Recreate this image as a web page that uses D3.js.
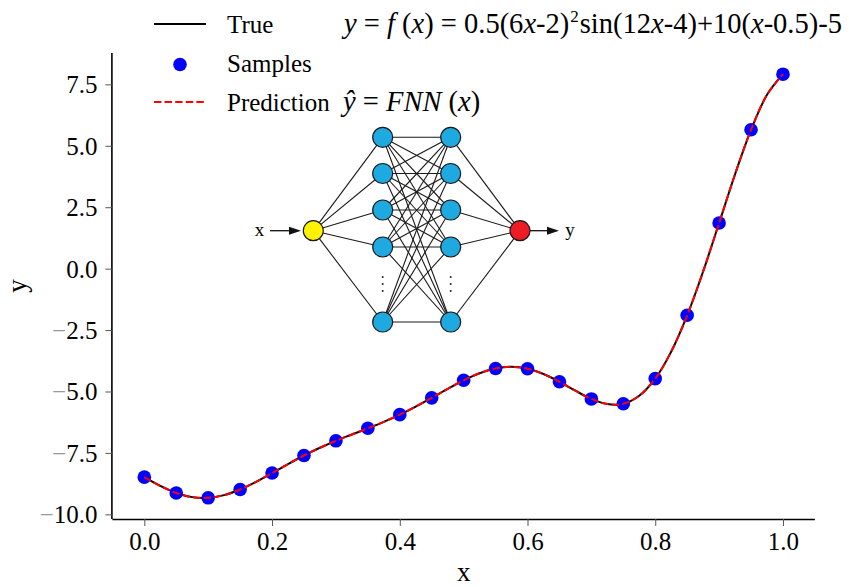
<!DOCTYPE html>
<html><head><meta charset="utf-8">
<script src="https://cdn.jsdelivr.net/npm/d3@7"></script>
<style>
body{margin:0;background:#fff}
svg{display:block}
text{font-family:"Liberation Serif","Times New Roman",serif;fill:#000}
</style>
</head><body>
<svg id="c" width="849" height="587"></svg>
<script>
// ---- data ----
const curveX = [0,0.025,0.05,0.075,0.1,0.125,0.15,0.175,0.2,0.225,0.25,0.275,0.3,0.325,0.35,0.375,0.4,0.425,0.45,0.475,0.5,0.525,0.55,0.575,0.6,0.625,0.65,0.675,0.7,0.725,0.75,0.775,0.8,0.825,0.85,0.875,0.9,0.925,0.95,0.975,1.0];
const trueY = [-8.486,-8.843,-9.131,-9.300,-9.328,-9.218,-8.989,-8.677,-8.320,-7.954,-7.605,-7.289,-7.008,-6.750,-6.499,-6.235,-5.943,-5.615,-5.259,-4.892,-4.545,-4.257,-4.064,-3.998,-4.075,-4.287,-4.604,-4.969,-5.303,-5.511,-5.497,-5.172,-4.475,-3.377,-1.899,-0.114,1.856,3.843,5.652,7.074,7.915];
const predY = [-8.486,-8.843,-9.131,-9.300,-9.328,-9.218,-8.989,-8.677,-8.320,-7.954,-7.605,-7.289,-7.008,-6.750,-6.499,-6.235,-5.943,-5.615,-5.259,-4.892,-4.545,-4.257,-4.064,-3.998,-4.075,-4.287,-4.604,-4.969,-5.303,-5.511,-5.497,-5.172,-4.475,-3.377,-1.899,-0.114,1.856,3.843,5.652,7.074,7.915];
const sampleX = [0,0.05,0.1,0.15,0.2,0.25,0.3,0.35,0.4,0.45,0.5,0.55,0.6,0.65,0.7,0.75,0.8,0.85,0.9,0.95,1.0];
const sampleY = [-8.486,-9.131,-9.328,-8.989,-8.320,-7.605,-7.008,-6.499,-5.943,-5.259,-4.545,-4.064,-4.075,-4.604,-5.303,-5.497,-4.475,-1.899,1.856,5.652,7.915];
const xTicks = [0,0.2,0.4,0.6,0.8,1.0];
const xTickLabels = ["0.0","0.2","0.4","0.6","0.8","1.0"];
const yTicks = [-10,-7.5,-5,-2.5,0,2.5,5,7.5];
const yTickLabels = ["−10.0","−7.5","−5.0","−2.5","0.0","2.5","5.0","7.5"];
const legendLabels = ["True","Samples","Prediction"];
const networkLayers = [1,5,5,1]; // node counts (hidden layers show 4 + ellipsis + 1)

// ---- setup ----
const svg = d3.select("#c");
const L=112.4, R=814.9, T=53, B=519;
const x = d3.scaleLinear().domain([-0.05,1.05]).range([L,R]);
const y = d3.scaleLinear().domain([-10.19,8.777]).range([B,T]);

// axes
const xAxis = svg.append("g").attr("transform",`translate(0,${B})`)
  .call(d3.axisBottom(x).tickValues(xTicks).tickSize(7).tickPadding(7).tickFormat((d,i)=>xTickLabels[i]));
const yAxis = svg.append("g").attr("transform",`translate(${L},0)`)
  .call(d3.axisLeft(y).tickValues(yTicks).tickSize(7).tickPadding(8).tickFormat((d,i)=>yTickLabels[i]));
[xAxis,yAxis].forEach(g=>{
  g.select(".domain").attr("stroke","#000").attr("stroke-width",1.6);
  g.selectAll(".tick line").attr("stroke","#555").attr("stroke-width",1);
  g.selectAll(".tick text").attr("font-family","Liberation Serif, serif").attr("font-size",25).attr("fill","#000");
});
xAxis.select(".domain").attr("d",`M${L},0.5H${R}`);
yAxis.select(".domain").attr("d",`M-0.5,${T}V${B}`);
xAxis.selectAll(".tick text").attr("dy","0.71em").attr("y",13);
yAxis.selectAll(".tick text").attr("dy","0.34em").each(function(d,i){
  const t = d3.select(this); const s = yTickLabels[i];
  t.text(null);
  if (s[0]==="−"){ t.append("tspan").attr("fill","#999").text("−"); t.append("tspan").text(s.slice(1)); }
  else t.text(s);
});

// axis labels
svg.append("text").attr("x",(L+R)/2).attr("y",581).attr("text-anchor","middle").attr("font-size",27).text("x");
svg.append("text").attr("transform","translate(25.5,286) rotate(-90)").attr("text-anchor","middle").attr("font-size",27).text("y");

// lines
const lineGen = d3.line().x((d,i)=>x(curveX[i])).y(d=>y(d)).curve(d3.curveCatmullRom.alpha(0.5));
svg.append("path").attr("d",lineGen(trueY)).attr("fill","none").attr("stroke","#000").attr("stroke-width",2);
svg.append("g").selectAll("circle").data(sampleY).join("circle")
  .attr("cx",(d,i)=>x(sampleX[i])).attr("cy",d=>y(d)).attr("r",6.8).attr("fill","#0000ff");
svg.append("path").attr("d",lineGen(predY)).attr("fill","none").attr("stroke","#ff0000").attr("stroke-width",2).attr("stroke-dasharray","7.4,3.2");

// legend
const lg = svg.append("g");
lg.append("line").attr("x1",154).attr("x2",206).attr("y1",24).attr("y2",24).attr("stroke","#000").attr("stroke-width",2);
lg.append("circle").attr("cx",180).attr("cy",64.5).attr("r",6.8).attr("fill","#0000ff");
lg.append("line").attr("x1",154).attr("x2",206).attr("y1",102).attr("y2",102).attr("stroke","#ff0000").attr("stroke-width",2).attr("stroke-dasharray","7.4,3.2");
[33,72,111].forEach((by,i)=>lg.append("text").attr("x",227).attr("y",by).attr("font-size",25).text(legendLabels[i]));

// formula 1
const FS = 28.5;
const f1 = svg.append("text").attr("x",344).attr("y",33).attr("font-size",FS);
const parts = [["y",1],[" = ",0],["f",1],[" (",0],["x",1],[") = 0.5(6",0],["x",1],["-2)",0],["2",2],["sin(12",3],["x",1],["-4)+10(",0],["x",1],["-0.5)-5",0]];
parts.forEach(([s,k])=>{
  const t=f1.append("tspan").text(s);
  if(k===1) t.attr("font-style","italic");
  if(k===2) t.attr("dy",-11).attr("font-size",17).attr("dx",1);
  if(k===3) t.attr("dy",11).attr("dx",1);
});
// formula 2
const f2 = svg.append("text").attr("x",343).attr("y",111).attr("font-size",FS);
[["ŷ",1],[" = ",0],["FNN",1],[" (",0],["x",1],[")",0]].forEach(([s,it])=>{
  const t=f2.append("tspan").text(s); if(it) t.attr("font-style","italic");
});

// network diagram
const net = svg.append("g");
const colX = [313.3,382.7,450.7,520];
const hidY = [137.3,173.5,210,247,322];
const midY = 230.7;
const nodes = networkLayers.map((n,li)=> n===1 ? [[colX[li],midY]] : hidY.map(yy=>[colX[li],yy]));
for (let li=0; li<nodes.length-1; li++){
  nodes[li].forEach(a=>nodes[li+1].forEach(b=>{
    net.append("line").attr("x1",a[0]).attr("y1",a[1]).attr("x2",b[0]).attr("y2",b[1]).attr("stroke","#1a1a1a").attr("stroke-width",1.1);
  }));
}
const fills = ["#fff200","#1fa9e1","#1fa9e1","#ed1c24"];
nodes.forEach((col,li)=>col.forEach(p=>{
  net.append("circle").attr("cx",p[0]).attr("cy",p[1]).attr("r",10).attr("fill",fills[li]).attr("stroke","#1a1a1a").attr("stroke-width",1.2);
}));
[colX[1],colX[2]].forEach(cx=>[277,284,291].forEach(cy=>net.append("circle").attr("cx",cx).attr("cy",cy).attr("r",1).attr("fill","#222")));
// arrows
function arrow(x1,x2,yy){
  net.append("line").attr("x1",x1).attr("x2",x2-10).attr("y1",yy).attr("y2",yy).attr("stroke","#111").attr("stroke-width",1.3);
  net.append("path").attr("d",`M${x2},${yy}L${x2-12},${yy-4}L${x2-12},${yy+4}Z`).attr("fill","#111");
}
arrow(270,301,midY); arrow(530,559,midY);
net.append("text").attr("x",259.5).attr("y",midY+5.5).attr("text-anchor","middle").attr("font-size",19).text("x");
net.append("text").attr("x",570).attr("y",midY+5.5).attr("text-anchor","middle").attr("font-size",19).text("y");
</script>
</body></html>
